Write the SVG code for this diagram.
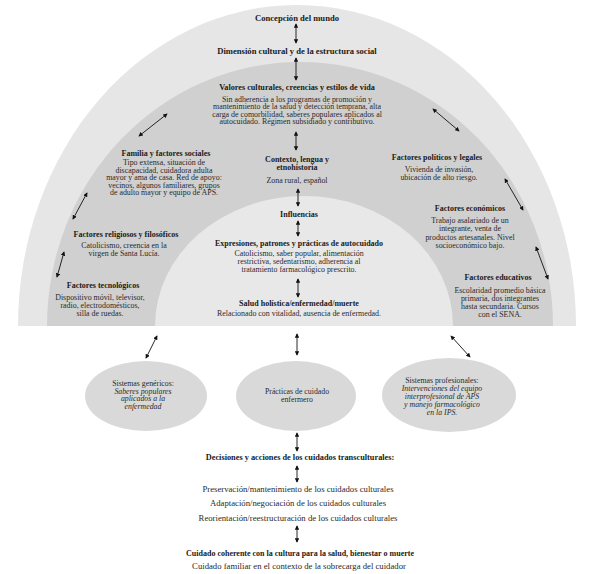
<svg xmlns="http://www.w3.org/2000/svg" width="589" height="574" viewBox="0 0 589 574">
<style>
text{font-family:"Liberation Serif","DejaVu Serif",serif;fill:#2a2a2a;text-anchor:middle;font-size:7.9px}
.b{font-weight:bold;font-size:8px;fill:#1a1a1a}
.t{font-size:8.6px;font-weight:bold;fill:#1a1a1a}
.i{font-style:italic}
.e{font-size:7.8px}
.l{font-size:8.7px}
.c line{stroke:#111;stroke-width:0.9;marker-start:url(#a);marker-end:url(#a)}
</style>
<defs>
<marker id="a" viewBox="0 0 6 6" refX="5" refY="3" markerWidth="4.5" markerHeight="4.5" markerUnits="userSpaceOnUse" orient="auto-start-reverse">
<path d="M0,0 L6,3 L0,6 Z" fill="#111"/>
</marker>
</defs>
<rect width="589" height="574" fill="#fff"/>
<g id="bands">
<path d="M18,326 A279,321 0 0 1 576,326 Z" fill="#e6e6e6"/>
<path d="M47,326 A253,264 0 0 1 553,326 Z" fill="#d0d0d0"/>
<path d="M155,326 A149,130 0 0 1 453,326 Z" fill="#e8e8e8"/>
</g>
<g id="n-concepcion"><text class="t" x="297" y="21">Concepción del mundo</text></g>
<g id="n-dimension"><text class="t" x="297" y="54">Dimensión cultural y de la estructura social</text></g>
<g id="n-valores">
<text class="b" x="297" y="90" style="font-size:8.2px">Valores culturales, creencias y estilos de vida</text>
<text x="297" y="101.5">Sin adherencia a los programas de promoción y</text>
<text x="297" y="109">mantenimiento de la salud y detección temprana, alta</text>
<text x="297" y="116.5">carga de comorbilidad, saberes populares aplicados al</text>
<text x="297" y="124">autocuidado.  Régimen subsidiado y contributivo.</text>
</g>
<g id="n-familia">
<text class="b" x="166" y="156">Familia y factores sociales</text>
<text x="164" y="165">Tipo extensa, situación de</text>
<text x="164" y="172.5">discapacidad, cuidadora adulta</text>
<text x="164" y="180">mayor y ama de casa. Red de apoyo:</text>
<text x="164" y="187.5">vecinos, algunos familiares, grupos</text>
<text x="164" y="195">de adulto mayor y equipo de APS.</text>
</g>
<g id="n-contexto">
<text class="b" x="297" y="162">Contexto, lengua y</text>
<text class="b" x="297" y="170">etnohistoria</text>
<text x="297" y="183">Zona rural, español</text>
</g>
<g id="n-politicos">
<text class="b" x="437" y="160">Factores políticos y legales</text>
<text x="439" y="172">Vivienda de invasión,</text>
<text x="439" y="180">ubicación de alto riesgo.</text>
</g>
<g id="n-economicos">
<text class="b" x="470" y="211">Factores económicos</text>
<text x="470" y="223">Trabajo asalariado de un</text>
<text x="470" y="231.3">integrante, venta de</text>
<text x="470" y="239.5">productos artesanales. Nivel</text>
<text x="470" y="247.5">socioeconómico bajo.</text>
</g>
<g id="n-religiosos">
<text class="b" x="126" y="237">Factores religiosos y filosóficos</text>
<text x="124" y="247.5">Catolicismo, creencia en la</text>
<text x="124" y="255.5">virgen de Santa Lucía.</text>
</g>
<g id="n-tecnologicos">
<text class="b" x="103" y="288">Factores tecnológicos</text>
<text x="100" y="299.5">Dispositivo móvil, televisor,</text>
<text x="100" y="307.5">radio, electrodomésticos,</text>
<text x="100" y="315.5">silla de ruedas.</text>
</g>
<g id="n-educativos">
<text class="b" x="498" y="280">Factores educativos</text>
<text x="500" y="292.5">Escolaridad promedio básica</text>
<text x="500" y="300.5">primaria, dos integrantes</text>
<text x="500" y="308.5">hasta secundaria. Cursos</text>
<text x="500" y="316.5">con el SENA.</text>
</g>
<g id="n-influencias"><text class="b" x="299" y="217">Influencias</text></g>
<g id="n-expresiones">
<text class="b" x="299" y="246">Expresiones, patrones y prácticas de autocuidado</text>
<text x="299" y="255.5">Catolicismo, saber popular, alimentación</text>
<text x="299" y="263.5">restrictiva, sedentarismo, adherencia al</text>
<text x="299" y="271.5">tratamiento farmacológico prescrito.</text>
</g>
<g id="n-salud">
<text class="b" x="299" y="306">Salud holística/enfermedad/muerte</text>
<text x="299" y="315.5">Relacionado con vitalidad, ausencia de enfermedad.</text>
</g>
<g id="n-genericos">
<ellipse cx="146" cy="396" rx="61" ry="35" fill="#d9d9d9"/>
<text class="e" x="143" y="385.5">Sistemas genéricos:</text>
<text class="e i" x="143" y="393.5">Saberes populares</text>
<text class="e i" x="143" y="401">aplicados a la</text>
<text class="e i" x="143" y="408.5">enfermedad</text>
</g>
<g id="n-practicas">
<ellipse cx="296" cy="396" rx="60" ry="35" fill="#d9d9d9"/>
<text class="e" x="297" y="393.5">Prácticas de cuidado</text>
<text class="e" x="297" y="401.5">enfermero</text>
</g>
<g id="n-profesionales">
<ellipse cx="449" cy="395" rx="67" ry="37" fill="#d9d9d9"/>
<text class="e" x="442" y="382.5">Sistemas profesionales:</text>
<text class="e i" x="442" y="390.5">Intervenciones del equipo</text>
<text class="e i" x="442" y="398.5">interprofesional de APS</text>
<text class="e i" x="442" y="407">y manejo farmacológico</text>
<text class="e i" x="442" y="415">en la IPS.</text>
</g>
<g id="n-decisiones"><text class="b" x="300" y="460" style="font-size:8.3px">Decisiones y acciones de los cuidados transculturales:</text></g>
<g id="n-acciones">
<text class="l" x="298" y="492">Preservación/mantenimiento de los cuidados culturales</text>
<text class="l" x="298" y="506">Adaptación/negociación de los cuidados culturales</text>
<text class="l" x="298" y="521">Reorientación/reestructuración de los cuidados culturales</text>
</g>
<g id="n-cuidado">
<text class="b" x="300" y="556">Cuidado coherente con la cultura para la salud, bienestar o muerte</text>
<text class="l" x="299" y="569">Cuidado familiar en el contexto de la sobrecarga del cuidador</text>
</g>
<g id="connectors" class="c">
<line x1="296" y1="24" x2="296" y2="43"/>
<line x1="296" y1="58" x2="296" y2="80"/>
<line x1="296" y1="132" x2="296" y2="150"/>
<line x1="167" y1="114" x2="139" y2="136"/>
<line x1="87" y1="193" x2="73" y2="219"/>
<line x1="64" y1="252" x2="57" y2="277"/>
<line x1="433" y1="109" x2="459" y2="131"/>
<line x1="505" y1="179" x2="523" y2="210"/>
<line x1="536" y1="247" x2="548" y2="279"/>
<line x1="298" y1="189" x2="298" y2="206"/>
<line x1="298" y1="221" x2="298" y2="236"/>
<line x1="298" y1="279" x2="298" y2="297"/>
<line x1="157" y1="336" x2="146" y2="358"/>
<line x1="297" y1="334" x2="297" y2="355"/>
<line x1="451" y1="336" x2="470" y2="357"/>
<line x1="297" y1="433" x2="297" y2="451"/>
<line x1="297" y1="466" x2="297" y2="482"/>
<line x1="297" y1="526" x2="297" y2="542"/>
</g>
</svg>
